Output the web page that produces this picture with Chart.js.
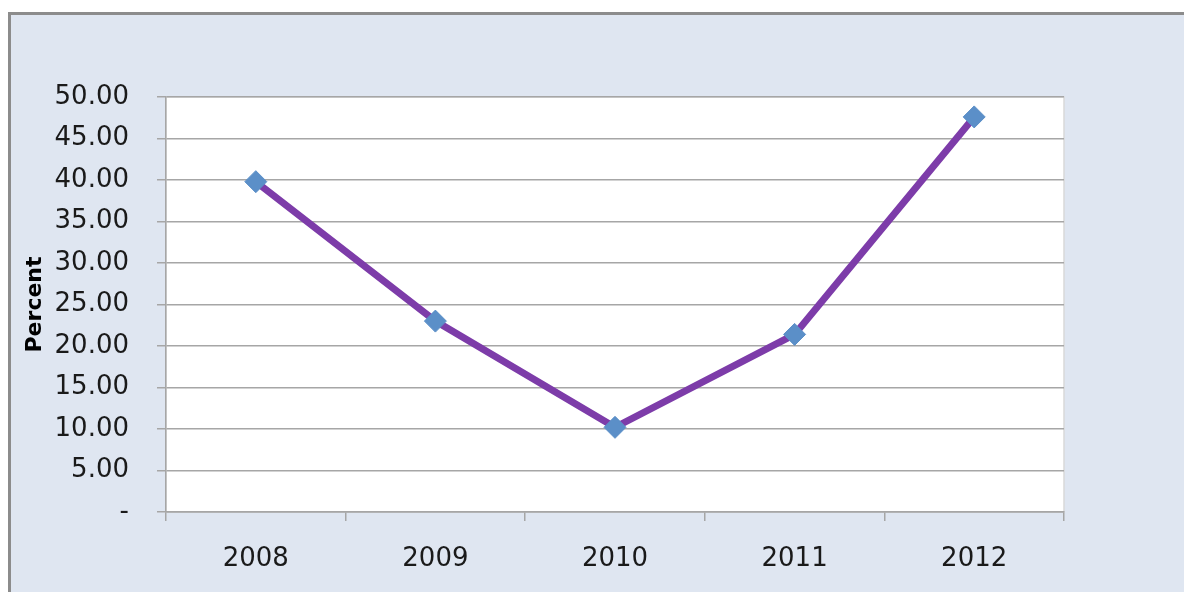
<!DOCTYPE html>
<html>
<head>
<meta charset="utf-8">
<script src="https://cdn.jsdelivr.net/npm/chart.js@4"></script>
<style>
  html, body { margin: 0; padding: 0; background: #ffffff; overflow: hidden; width: 1184px; height: 592px; }
  #moldura {
    position: absolute; left: 8px; top: 12px; width: 1176px; height: 580px;
    background: #dfe6f1; border-left: 3px solid #8c8c8c; border-top: 3px solid #8c8c8c;
    box-sizing: border-box;
  }
  #caixa { position: absolute; left: 0; top: 0; width: 1184px; height: 592px; }
</style>
</head>
<body>
<div id="moldura"></div>
<div id="caixa"><canvas id="graficoPercentual"></canvas></div>
<script>
// Dados do gráfico
const anos = ['2008', '2009', '2010', '2011', '2012'];
const percentuais = [39.8, 23.0, 10.2, 21.4, 47.6];
const yMin = 0;
const yMax = 50;
const yPasso = 5;

// Fundo branco da área do gráfico
const fundoArea = {
    id: 'fundoArea',
    beforeDraw(chart) {
        const { ctx, chartArea } = chart;
        ctx.save();
        ctx.fillStyle = '#ffffff';
        ctx.fillRect(chartArea.left, chartArea.top, chartArea.width, chartArea.height);
        ctx.strokeStyle = '#d9d9d9';
        ctx.lineWidth = 1.5;
        ctx.strokeRect(chartArea.left, chartArea.top, chartArea.width, chartArea.height);
        ctx.restore();
    }
};

const ctx = document.getElementById('graficoPercentual').getContext('2d');

new Chart(ctx, {
    type: 'line',
    data: {
        labels: anos,
        datasets: [{
            label: 'Percent',
            data: percentuais,
            borderColor: '#7d3ca9',
            borderWidth: 7,
            tension: 0,
            pointStyle: 'rectRot',
            pointRadius: 11,
            pointBackgroundColor: '#5b8fc8',
            pointBorderColor: '#5b8fc8',
            pointBorderWidth: 1
        }]
    },
    options: {
        responsive: true,
        maintainAspectRatio: false,
        animation: false,
        layout: { padding: { top: 97, right: 120, left: 0, bottom: 0 } },
        plugins: {
            legend: { display: false },
            tooltip: { enabled: false }
        },
        scales: {
            x: {
                offset: true,
                afterFit(scale) { scale.height = 80; },
                grid: {
                    offset: true,
                    drawOnChartArea: false,
                    drawTicks: true,
                    tickLength: 9,
                    color: '#a6a6a6',
                    lineWidth: 1.5
                },
                border: { color: '#a6a6a6', width: 1.5 },
                ticks: {
                    color: '#1a1a1a',
                    padding: 23,
                    font: { family: 'DejaVu Sans', size: 26 }
                }
            },
            y: {
                min: yMin,
                max: yMax,
                afterFit(scale) { scale.width = 166; },
                grid: {
                    color: '#a6a6a6',
                    lineWidth: 1.5,
                    tickLength: 9
                },
                border: { color: '#a6a6a6', width: 1.5 },
                ticks: {
                    stepSize: yPasso,
                    color: '#1a1a1a',
                    padding: 28,
                    font: { family: 'DejaVu Sans', size: 26 },
                    callback: (v) => v === 0 ? '-' : v.toFixed(2)
                },
                title: {
                    display: true,
                    text: 'Percent',
                    color: '#000000',
                    padding: { top: 22, bottom: 0 },
                    font: { family: 'DejaVu Sans', size: 22, weight: 'bold' }
                }
            }
        }
    },
    plugins: [fundoArea]
});
</script>
</body>
</html>
